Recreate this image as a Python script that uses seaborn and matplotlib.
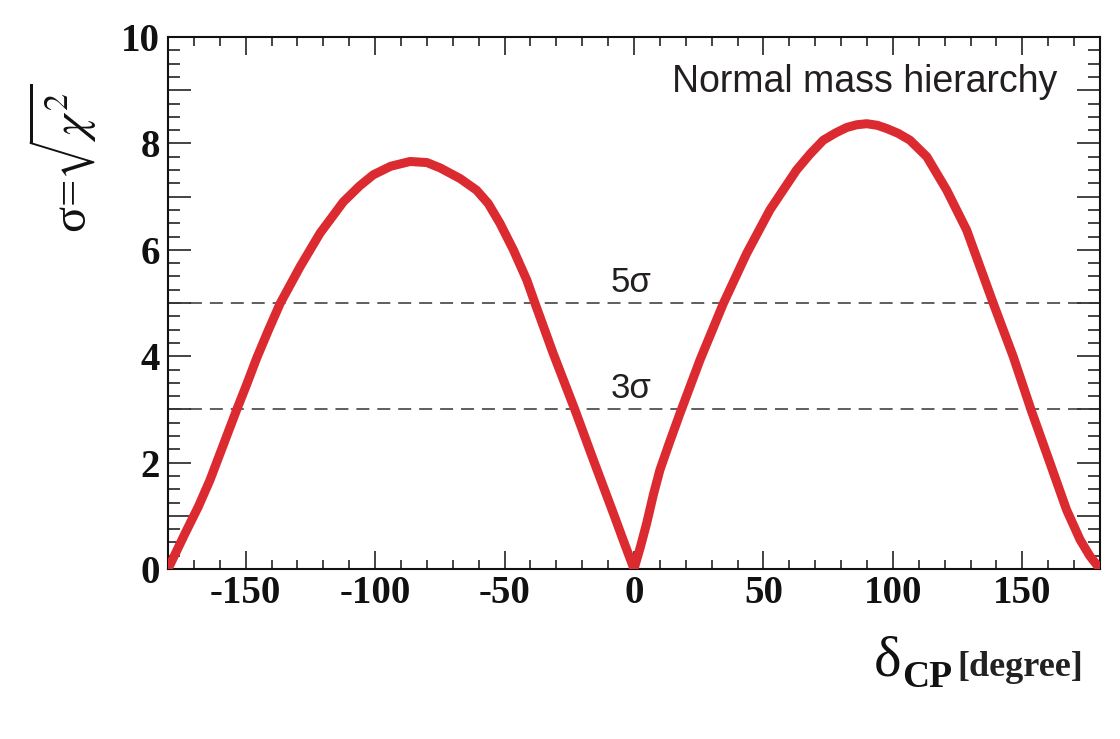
import numpy as np
import pandas as pd
import matplotlib
matplotlib.use("Agg")
import matplotlib.pyplot as plt
from matplotlib.ticker import MultipleLocator, FuncFormatter
import seaborn as sns

# delta_CP (degree) vs sqrt(chi^2)
delta_cp = [-180, -173.4, -168.3, -163.8, -159.9, -156.7, -153.5, -149.6, -145.7, -141.2,
            -136.7, -129, -121.3, -112.3, -106, -100.7, -94, -86.5, -80, -74.9,
            -67.2, -60.8, -56.3, -51.8, -46.6, -41.4, -38.2, -31.2, -22.8, -15.7,
            -8.0, -4, 0, 2.5, 4.9, 7.5, 10, 13.5, 17.8, 25.5,
            34.5, 43.5, 52.5, 62.8, 68, 73.1, 78, 82.2, 86, 89.9,
            94, 97.6, 102, 106.6, 113.1, 120.8, 128.5, 138.8, 146.5, 153.6,
            160.7, 167.1, 172.3, 176, 180]
sigma = [0, 0.67, 1.17, 1.67, 2.17, 2.58, 2.99, 3.47, 3.97, 4.49,
         4.99, 5.68, 6.31, 6.90, 7.20, 7.41, 7.57, 7.66, 7.64, 7.54,
         7.34, 7.12, 6.87, 6.50, 6.00, 5.43, 4.99, 4.05, 2.99, 2.05,
         1.05, 0.52, 0, 0.42, 0.86, 1.40, 1.86, 2.35, 2.93, 3.93,
         4.99, 5.93, 6.75, 7.50, 7.80, 8.06, 8.20, 8.30, 8.35, 8.37,
         8.34, 8.28, 8.19, 8.06, 7.75, 7.12, 6.37, 4.99, 3.99, 2.96,
         1.99, 1.11, 0.55, 0.25, 0]

sig_levels = [3, 5]
sig_labels = ["3\u03c3", "5\u03c3"]

W, H = 1120, 739

sns.set_style("ticks")
plt.rcParams["font.family"] = ["Liberation Serif", "DejaVu Serif"]
plt.rcParams["mathtext.fontset"] = "stix"
plt.rcParams["axes.unicode_minus"] = False

df = pd.DataFrame({"delta": delta_cp, "sigma": sigma})

fig = plt.figure(figsize=(W / 100, H / 100), dpi=100)
ax = fig.add_axes([168 / W, 1 - 569 / H, (1100 - 168) / W, (569 - 37) / H])

for lvl in sig_levels:
    ax.axhline(lvl, color="#333333", lw=1.1, dashes=(8.5, 5.2), zorder=1)

sns.lineplot(data=df, x="delta", y="sigma", ax=ax, color="#dc2b30",
             lw=6.5, estimator=None, sort=False, zorder=3,
             solid_joinstyle="round", solid_capstyle="round")

for lvl, lab in zip(sig_levels, sig_labels):
    ax.text(-9.2, lvl + 0.21, lab, fontsize=25, family="Liberation Sans",
            color="#231f20", ha="left", va="baseline")

ax.set_xlim(-180, 180)
ax.set_ylim(0, 10)
ax.set_xlabel("")
ax.set_ylabel("")

ax.xaxis.set_major_locator(MultipleLocator(50))
ax.xaxis.set_minor_locator(MultipleLocator(10))
ax.yaxis.set_major_locator(MultipleLocator(1))
ax.yaxis.set_minor_locator(MultipleLocator(0.25))
ax.yaxis.set_major_formatter(FuncFormatter(lambda v, p: f"{v:.0f}" if round(v) % 2 == 0 else ""))

ax.tick_params(axis="both", which="both", direction="in", top=True, right=True,
               width=1.1, color="#111111", labelcolor="#111111")
ax.tick_params(axis="x", which="major", length=13, pad=4)
ax.tick_params(axis="x", which="minor", length=6.5)
ax.tick_params(axis="y", which="major", length=16.5, pad=6)
ax.tick_params(axis="y", which="minor", length=8.5)
for lab in ax.get_xticklabels() + ax.get_yticklabels():
    lab.set_fontsize(28)
    lab.set_fontweight("bold")
    lab.set_family("Liberation Serif")

for sp in ax.spines.values():
    sp.set_linewidth(1.5)
    sp.set_color("#111111")

# axis titles, ROOT-style placement
fig.text(62 / W, 1 - 84 / H, "\u03c3=" + r"$\sqrt{\chi^2}$", rotation=90,
         ha="center", va="top", fontsize=35, color="#111111",
         family="Liberation Serif")
fig.text(874 / W, 1 - 675 / H, "\u03b4", fontsize=42, ha="left", va="baseline",
         family="Liberation Serif", color="#111111")
fig.text(902 / W, 1 - 687 / H, "CP", fontsize=27, fontweight="bold", ha="left",
         va="baseline", family="Liberation Serif", color="#111111")
fig.text(957 / W, 1 - 676 / H, "[degree]", fontsize=26, fontweight="bold", ha="left",
         va="baseline", family="Liberation Serif", color="#222222")

fig.text(1057 / W, 1 - 92 / H, "Normal mass hierarchy", fontsize=27,
         family="Liberation Sans", color="#231f20", ha="right", va="baseline")

fig.savefig("out.png", dpi=100, facecolor="white")
